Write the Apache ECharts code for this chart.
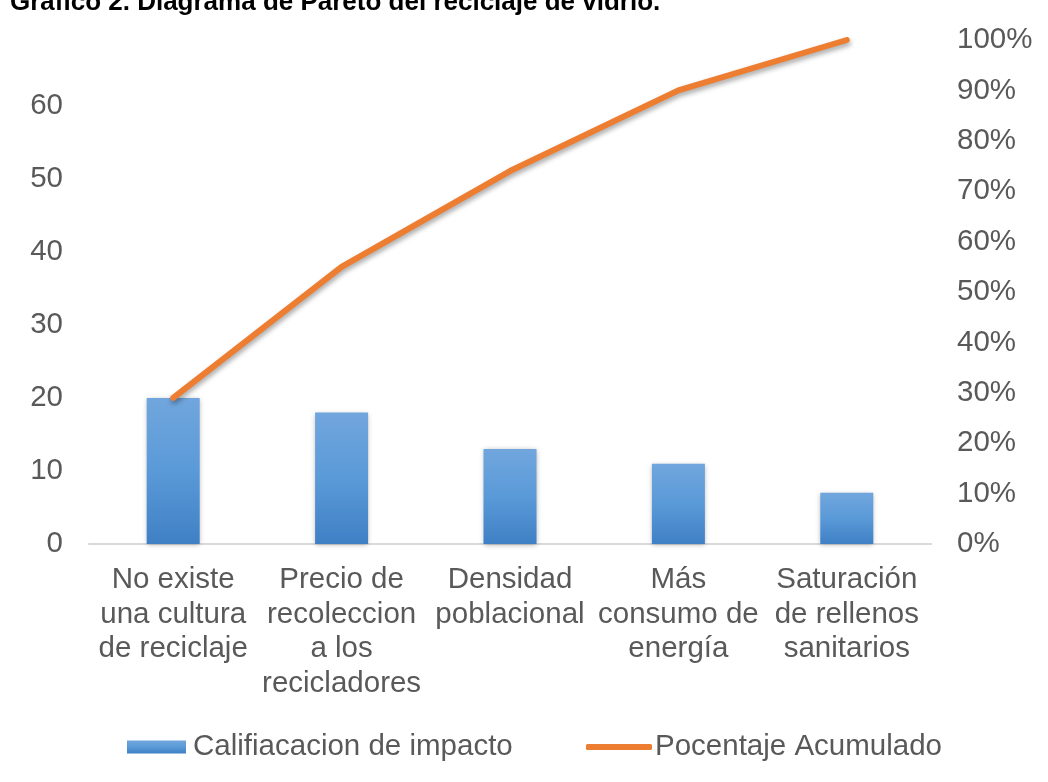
<!DOCTYPE html>
<html>
<head>
<meta charset="utf-8">
<script src="https://cdn.jsdelivr.net/npm/echarts@6/dist/echarts.min.js"></script>
<style>
html,body{margin:0;padding:0;background:#fff;}
#c{width:1048px;height:782px;}
</style>
</head>
<body>
<div id="c"></div>
<script>
var titleText = 'Gráfico 2. Diagrama de Pareto del reciclaje de vidrio.';
var categories = [
  'No existe\nuna cultura\nde reciclaje',
  'Precio de\nrecoleccion\na los\nrecicladores',
  'Densidad\npoblacional',
  'Más\nconsumo de\nenergía',
  'Saturación\nde rellenos\nsanitarios'
];
var impacto = [20, 18, 13, 11, 7];
var acumulado = [0.29, 0.55, 0.74, 0.90, 1.00];
var barName = 'Califiacacion de impacto';
var lineName = 'Pocentaje Acumulado';

var FONT = 'Arial, "Liberation Sans", sans-serif';
var GRAY = '#595959';
var FS = 29.5;

var chart = echarts.init(document.getElementById('c'), null, {renderer: 'canvas'});
chart.setOption({
  animation: false,
  backgroundColor: '#ffffff',
  graphic: [{
    type: 'text',
    left: 10,
    top: -10,
    style: {
      text: titleText,
      font: 'bold 26px ' + FONT,
      fill: '#000000'
    }
  }],
  legend: [{
    data: [{name: barName, icon: 'rect'}],
    left: 122, top: 727,
    itemWidth: 59, itemHeight: 13,
    itemGap: 0,
    textStyle: {color: GRAY, fontSize: FS, fontFamily: FONT, padding: [0, 0, 0, 2]}
  }, {
    data: [{name: lineName, icon: 'roundRect'}],
    left: 581, top: 727,
    itemWidth: 66, itemHeight: 6,
    textStyle: {color: GRAY, fontSize: FS, fontFamily: FONT, padding: [0, 0, 0, -2]}
  }],
  grid: {left: 89, right: 117, top: 40, bottom: 238, containLabel: false},
  xAxis: {
    type: 'category',
    data: categories,
    axisLine: {lineStyle: {color: '#D9D9D9', width: 2}},
    axisTick: {show: false},
    axisLabel: {
      color: GRAY, fontSize: FS, fontFamily: FONT, lineHeight: 34.5,
      margin: 19, interval: 0
    }
  },
  yAxis: [{
    type: 'value', min: 0, max: 69, interval: 10,
    axisLine: {show: false}, axisTick: {show: false},
    splitLine: {show: false},
    axisLabel: {color: GRAY, fontSize: FS, fontFamily: FONT, margin: 26, showMaxLabel: false}
  }, {
    type: 'value', min: 0, max: 1, interval: 0.1,
    axisLine: {show: false}, axisTick: {show: false},
    splitLine: {show: false},
    axisLabel: {
      color: GRAY, fontSize: FS, fontFamily: FONT, margin: 26,
      formatter: function (v) { return Math.round(v * 100) + '%'; }
    }
  }],
  series: [{
    name: barName,
    type: 'bar',
    data: impacto,
    barWidth: 53,
    itemStyle: {
      color: new echarts.graphic.LinearGradient(0, 0, 0, 1, [
        {offset: 0, color: '#71A6DD'},
        {offset: 0.5, color: '#5A9AD8'},
        {offset: 1, color: '#3F80C5'}
      ]),
      shadowColor: 'rgba(0,0,0,0.30)',
      shadowBlur: 5,
      shadowOffsetX: 0,
      shadowOffsetY: 1
    }
  }, {
    name: lineName,
    type: 'line',
    yAxisIndex: 1,
    data: acumulado,
    symbol: 'none',
    lineStyle: {
      color: '#ED7D31', width: 6, cap: 'round', join: 'round',
      shadowColor: 'rgba(0,0,0,0.35)', shadowBlur: 5,
      shadowOffsetX: 1, shadowOffsetY: 3
    },
    itemStyle: {color: '#ED7D31'},
    z: 3
  }]
});
</script>
</body>
</html>
